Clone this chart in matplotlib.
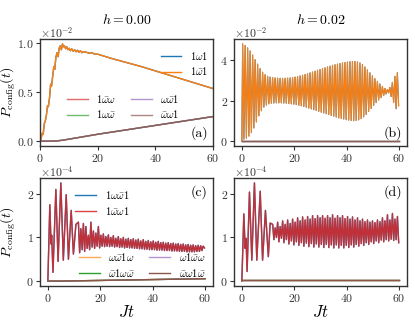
import numpy as np
import matplotlib
matplotlib.use("Agg")
import matplotlib.pyplot as plt

plt.rcParams["font.family"] = "serif"
plt.rcParams["font.serif"] = ["cmr10", "DejaVu Serif"]
plt.rcParams["mathtext.fontset"] = "cm"
plt.rcParams["axes.formatter.use_mathtext"] = True
plt.rcParams["axes.unicode_minus"] = False

# ---------------- panel (a): h = 0.00, units of 1e-2 ----------------
ta_main = [0, 0.4, 0.8, 1.1, 1.5, 1.8, 2.2, 2.6, 2.9, 3.3, 3.7, 4.0, 4.4, 4.8, 5.1,
           5.5, 5.9, 6.3, 6.6, 7.0, 7.4, 7.8, 8.1, 8.5, 8.9, 9.3, 9.7, 10.1, 10.5,
           11.0, 11.5, 12.0, 12.5, 13.0, 13.5, 14.0, 14.5, 15.0, 16.0, 17.0, 18.0,
           19.0, 20.0, 25.0, 30.0, 35.0, 40.0, 45.0, 50.0, 55.0, 60.0]
pa_main = [0, 0.03, 0.08, 0.07, 0.18, 0.20, 0.26, 0.36, 0.35, 0.44, 0.58, 0.56, 0.66,
           0.76, 0.73, 0.85, 0.90, 0.86, 0.94, 0.97, 0.93, 0.99, 0.96, 0.97, 0.94,
           0.96, 0.93, 0.945, 0.92, 0.94, 0.915, 0.93, 0.91, 0.925, 0.905, 0.92,
           0.90, 0.91, 0.905, 0.895, 0.90, 0.885, 0.885, 0.84, 0.80, 0.76, 0.715,
           0.67, 0.625, 0.58, 0.535]
ta_small = [0, 4, 6, 8, 10, 12, 15, 20, 30, 40, 50, 60]
pa_small = [0, 0, 0.003, 0.01, 0.02, 0.03, 0.045, 0.07, 0.115, 0.16, 0.205, 0.25]

# ---------------- panel (b): h = 0.02, units of 1e-2 ----------------
pb_peaks = [4.80, 4.72, 4.60, 4.45, 4.25, 4.02, 3.80, 3.58, 3.40, 3.28,
            3.20, 3.16, 3.14, 3.12, 3.11, 3.10, 3.10, 3.10, 3.11, 3.12,
            3.14, 3.16, 3.19, 3.22, 3.25, 3.29, 3.33, 3.37, 3.41, 3.45,
            3.50, 3.54, 3.58, 3.62, 3.66, 3.70, 3.74, 3.77, 3.80, 3.83,
            3.86, 3.88, 3.90, 3.92, 3.93, 3.93, 3.91, 3.86, 3.78, 3.66,
            3.52, 3.37, 3.22, 3.08, 2.95, 2.82, 2.70, 2.60, 2.55, 2.65,
            2.90, 3.20, 3.38]
pb_troughs = [0.10, 0.15, 0.25, 0.42, 0.65, 0.95, 1.25, 1.50, 1.68, 1.78,
              1.84, 1.87, 1.88, 1.89, 1.89, 1.89, 1.88, 1.87, 1.86, 1.84,
              1.82, 1.80, 1.77, 1.74, 1.71, 1.67, 1.63, 1.59, 1.55, 1.51,
              1.47, 1.43, 1.39, 1.35, 1.31, 1.27, 1.23, 1.19, 1.15, 1.12,
              1.09, 1.06, 1.04, 1.02, 1.01, 1.02, 1.05, 1.11, 1.20, 1.32,
              1.46, 1.61, 1.76, 1.90, 2.03, 2.15, 2.25, 2.33, 2.38, 2.20,
              1.90, 1.60, 1.75]
tb_small = [0, 60]
pb_small = [0.01, 0.01]

# ---------------- panel (c): h = 0.00, units of 1e-4 ----------------
tc_start = [0, 0.75, 1.2, 1.45, 1.95, 3.05, 3.9, 4.95, 5.9, 7.0, 7.85, 8.9, 9.75, 10.7]
pc_start = [0, 1.75, 0.85, 1.05, 0.2, 2.1, 0.45, 2.25, 0.48, 1.98, 0.5, 1.62, 0.62, 1.3]
pc_peaks = [1.35, 1.20, 1.32, 1.25, 1.05, 1.35, 1.15, 1.10, 1.25, 1.05,
            1.08, 1.02, 1.06, 1.00, 1.04, 0.98, 1.02, 0.97, 1.00, 0.96,
            0.98, 0.95, 0.97, 0.94, 0.96, 0.92, 0.95, 0.91, 0.93, 0.90,
            0.92, 0.89, 0.91, 0.88, 0.89, 0.87, 0.88, 0.86, 0.87, 0.85,
            0.86, 0.84, 0.85, 0.83, 0.84, 0.82, 0.83, 0.81, 0.82, 0.81, 0.80]
pc_troughs = [0.65, 0.72, 0.68, 0.75, 0.72, 0.78, 0.75, 0.80, 0.76, 0.80,
              0.79, 0.80, 0.79, 0.80, 0.78, 0.79, 0.77, 0.78, 0.76, 0.77,
              0.76, 0.76, 0.75, 0.75, 0.74, 0.74, 0.73, 0.73, 0.72, 0.72,
              0.72, 0.71, 0.71, 0.71, 0.70, 0.70, 0.70, 0.69, 0.69, 0.69,
              0.68, 0.68, 0.68, 0.67, 0.67, 0.67, 0.67, 0.68, 0.68, 0.70, 0.76]
tc_small = [0, 5, 10, 20, 30, 40, 50, 60]
pc_small = [0, 0.0, 0.005, 0.015, 0.025, 0.035, 0.045, 0.055]

# ---------------- panel (d): h = 0.02, units of 1e-4 ----------------
td_start = [0, 0.75, 1.25, 1.6, 2.0, 2.9, 3.8, 4.8, 5.7, 7.0, 7.9, 9.0, 10.1, 10.8]
pd_start = [0, 1.54, 0.75, 0.98, 0.22, 2.04, 0.48, 2.25, 0.48, 2.06, 0.48, 1.62, 0.56, 1.33]
pd_peaks = [1.30, 1.22, 1.35, 1.25, 1.38, 1.30, 1.40, 1.32, 1.42, 1.35,
            1.45, 1.38, 1.47, 1.40, 1.48, 1.42, 1.50, 1.43, 1.50, 1.45,
            1.50, 1.44, 1.50, 1.45, 1.52, 1.44, 1.50, 1.45, 1.50, 1.43,
            1.48, 1.42, 1.47, 1.40, 1.45, 1.38, 1.42, 1.36, 1.40, 1.35,
            1.38, 1.34, 1.40, 1.36, 1.45, 1.38, 1.52, 1.40, 1.55, 1.42, 1.48]
pd_troughs = [0.95, 1.00, 0.90, 0.98, 0.88, 0.95, 0.85, 0.92, 0.83, 0.90,
              0.82, 0.88, 0.80, 0.87, 0.79, 0.86, 0.78, 0.85, 0.78, 0.84,
              0.77, 0.84, 0.77, 0.83, 0.76, 0.83, 0.76, 0.82, 0.76, 0.82,
              0.77, 0.83, 0.78, 0.84, 0.80, 0.86, 0.82, 0.88, 0.84, 0.90,
              0.86, 0.92, 0.88, 0.94, 0.90, 0.95, 0.92, 0.96, 0.93, 0.95, 0.88]
td_small = [0, 60]
pd_small = [0.02, 0.02]

labels_a = [r"$1\omega1$", r"$1\bar{\omega}1$", r"$1\bar{\omega}\omega$",
            r"$1\omega\bar{\omega}$", r"$\omega\bar{\omega}1$", r"$\bar{\omega}\omega1$"]
labels_c = [r"$1\omega\bar{\omega}1$", r"$1\bar{\omega}\omega1$", r"$\omega\bar{\omega}1\omega$",
            r"$\bar{\omega}1\omega\bar{\omega}$", r"$\omega1\bar{\omega}\omega$",
            r"$\bar{\omega}\omega1\bar{\omega}$"]


def interleave(peaks, troughs):
    out = []
    for p, q in zip(peaks, troughs):
        out += [p, q]
    return np.array(out)


def osc_series(t0, period, peaks, troughs):
    vals = interleave(peaks, troughs)
    t = t0 + 0.5 * period * np.arange(len(vals))
    return t, vals


fig = plt.figure(figsize=(4.15, 3.32), dpi=100)
W, H = 415, 332


def add_ax(x0, y0, x1, y1):
    return fig.add_axes([x0 / W, 1 - y1 / H, (x1 - x0) / W, (y1 - y0) / H])


ax_a = add_ax(40, 39, 213, 146)
ax_b = add_ax(234, 39, 407, 146)
ax_c = add_ax(40, 178, 213, 286)
ax_d = add_ax(234, 178, 407, 286)

lw = 1.0
ca = ["C0", "C1", "C3", "C2", "C4", "C5"]

# (a)
sa = 1e-2
la = []
la.append(ax_a.plot(ta_main, np.array(pa_main) * sa, color="C0", lw=lw, label=labels_a[0])[0])
la.append(ax_a.plot(ta_main, np.array(pa_main) * sa, color="C1", lw=lw, label=labels_a[1])[0])
for c, lab in zip(ca[2:], labels_a[2:]):
    la.append(ax_a.plot(ta_small, np.array(pa_small) * sa, color=c, lw=lw, alpha=0.7, label=lab)[0])
ax_a.set_xlim(0, 60)
ax_a.set_yticks([0, 0.005, 0.01])

# (b)
tb, vb = osc_series(0.3, 0.952, pb_peaks, pb_troughs)
tb = np.concatenate([[0], tb])
vb = np.concatenate([[0], vb])
ax_b.plot(tb, vb * sa, color="C0", lw=0.8)
ax_b.plot(tb, vb * sa, color="C1", lw=0.8)
for c in ca[2:]:
    ax_b.plot(tb_small, np.array(pb_small) * sa, color=c, lw=lw, alpha=0.7)
ax_b.set_yticks([0, 0.02, 0.04])

# (c)
sc = 1e-4
tcs, vcs = osc_series(11.65, 0.952, pc_peaks, pc_troughs)
tc = np.concatenate([tc_start, tcs])
vc = np.concatenate([pc_start, vcs])
lc = []
lc.append(ax_c.plot(tc, vc * sc, color="C0", lw=lw, label=labels_c[0])[0])
lc.append(ax_c.plot(tc, vc * sc, color="C3", lw=lw, alpha=0.88, label=labels_c[1])[0])
for c, lab, a in zip(["C1", "C2", "C4", "C5"], labels_c[2:], [0.7, 1, 0.7, 1]):
    lc.append(ax_c.plot(tc_small, np.array(pc_small) * sc, color=c, lw=lw, alpha=a, label=lab)[0])
ax_c.set_yticks([0, 1e-4, 2e-4])

# (d)
tds, vds = osc_series(11.75, 0.952, pd_peaks, pd_troughs)
td = np.concatenate([td_start, tds])
vd = np.concatenate([pd_start, vds])
ax_d.plot(td, vd * sc, color="C0", lw=lw)
ax_d.plot(td, vd * sc, color="C3", lw=lw, alpha=0.88)
for c, a in zip(["C1", "C2", "C4", "C5"], [0.7, 1, 0.7, 1]):
    ax_d.plot(td_small, np.array(pd_small) * sc, color=c, lw=lw, alpha=a)
ax_d.set_yticks([0, 1e-4, 2e-4])

exps = {ax_a: -2, ax_b: -2, ax_c: -4, ax_d: -4}
for ax in (ax_a, ax_b, ax_c, ax_d):
    ax.ticklabel_format(axis="y", style="sci", scilimits=(0, 0), useMathText=True)
    ax.yaxis.get_offset_text().set_visible(False)
    ax.text(0.0, 0.99, r"$\times10^{%d}$" % exps[ax], transform=ax.transAxes,
            ha="left", va="bottom", fontsize=8.5, color="0.2")
    ax.set_xticks([0, 20, 40, 60])
    ax.tick_params(labelsize=8.5, length=3, width=0.8, colors="0.2", pad=1.5)
    for s in ax.spines.values():
        s.set_color("0.2")
        s.set_linewidth(1.0)

ax_a.set_title(r"$h = 0.00$", fontsize=10, pad=11)
ax_b.set_title(r"$h = 0.02$", fontsize=10, pad=11)
for ax in (ax_a, ax_c):
    ax.set_ylabel(r"$P_{\rm config}(t)$", fontsize=10)
    ax.yaxis.set_label_coords(-0.128, 0.5)
ax_c.set_xlabel(r"$Jt$", fontsize=12, labelpad=0)
ax_d.set_xlabel(r"$Jt$", fontsize=12, labelpad=0)

ax_a.text(0.97, 0.06, "(a)", transform=ax_a.transAxes, ha="right", va="bottom", fontsize=10)
ax_b.text(0.97, 0.06, "(b)", transform=ax_b.transAxes, ha="right", va="bottom", fontsize=10)
ax_c.text(0.97, 0.93, "(c)", transform=ax_c.transAxes, ha="right", va="top", fontsize=10)
ax_d.text(0.97, 0.93, "(d)", transform=ax_d.transAxes, ha="right", va="top", fontsize=10)

leg_kw = dict(frameon=False, fontsize=7.5, handlelength=2.0, handletextpad=0.8,
              labelspacing=0.35, borderpad=0.2, borderaxespad=0.3)
lg1 = ax_a.legend(handles=la[:2], loc="upper right", bbox_to_anchor=(1.0, 0.95), **leg_kw)
ax_a.add_artist(lg1)
ax_a.legend(handles=la[2:], loc="center", bbox_to_anchor=(0.48, 0.37), ncol=2,
            columnspacing=1.4, **leg_kw)

lg2 = ax_c.legend(handles=lc[:2], loc="center", bbox_to_anchor=(0.36, 0.77), **leg_kw)
ax_c.add_artist(lg2)
ax_c.legend(handles=lc[2:], loc="center", bbox_to_anchor=(0.59, 0.195), ncol=2,
            columnspacing=1.4, **leg_kw)

fig.savefig("out.png", dpi=100)
